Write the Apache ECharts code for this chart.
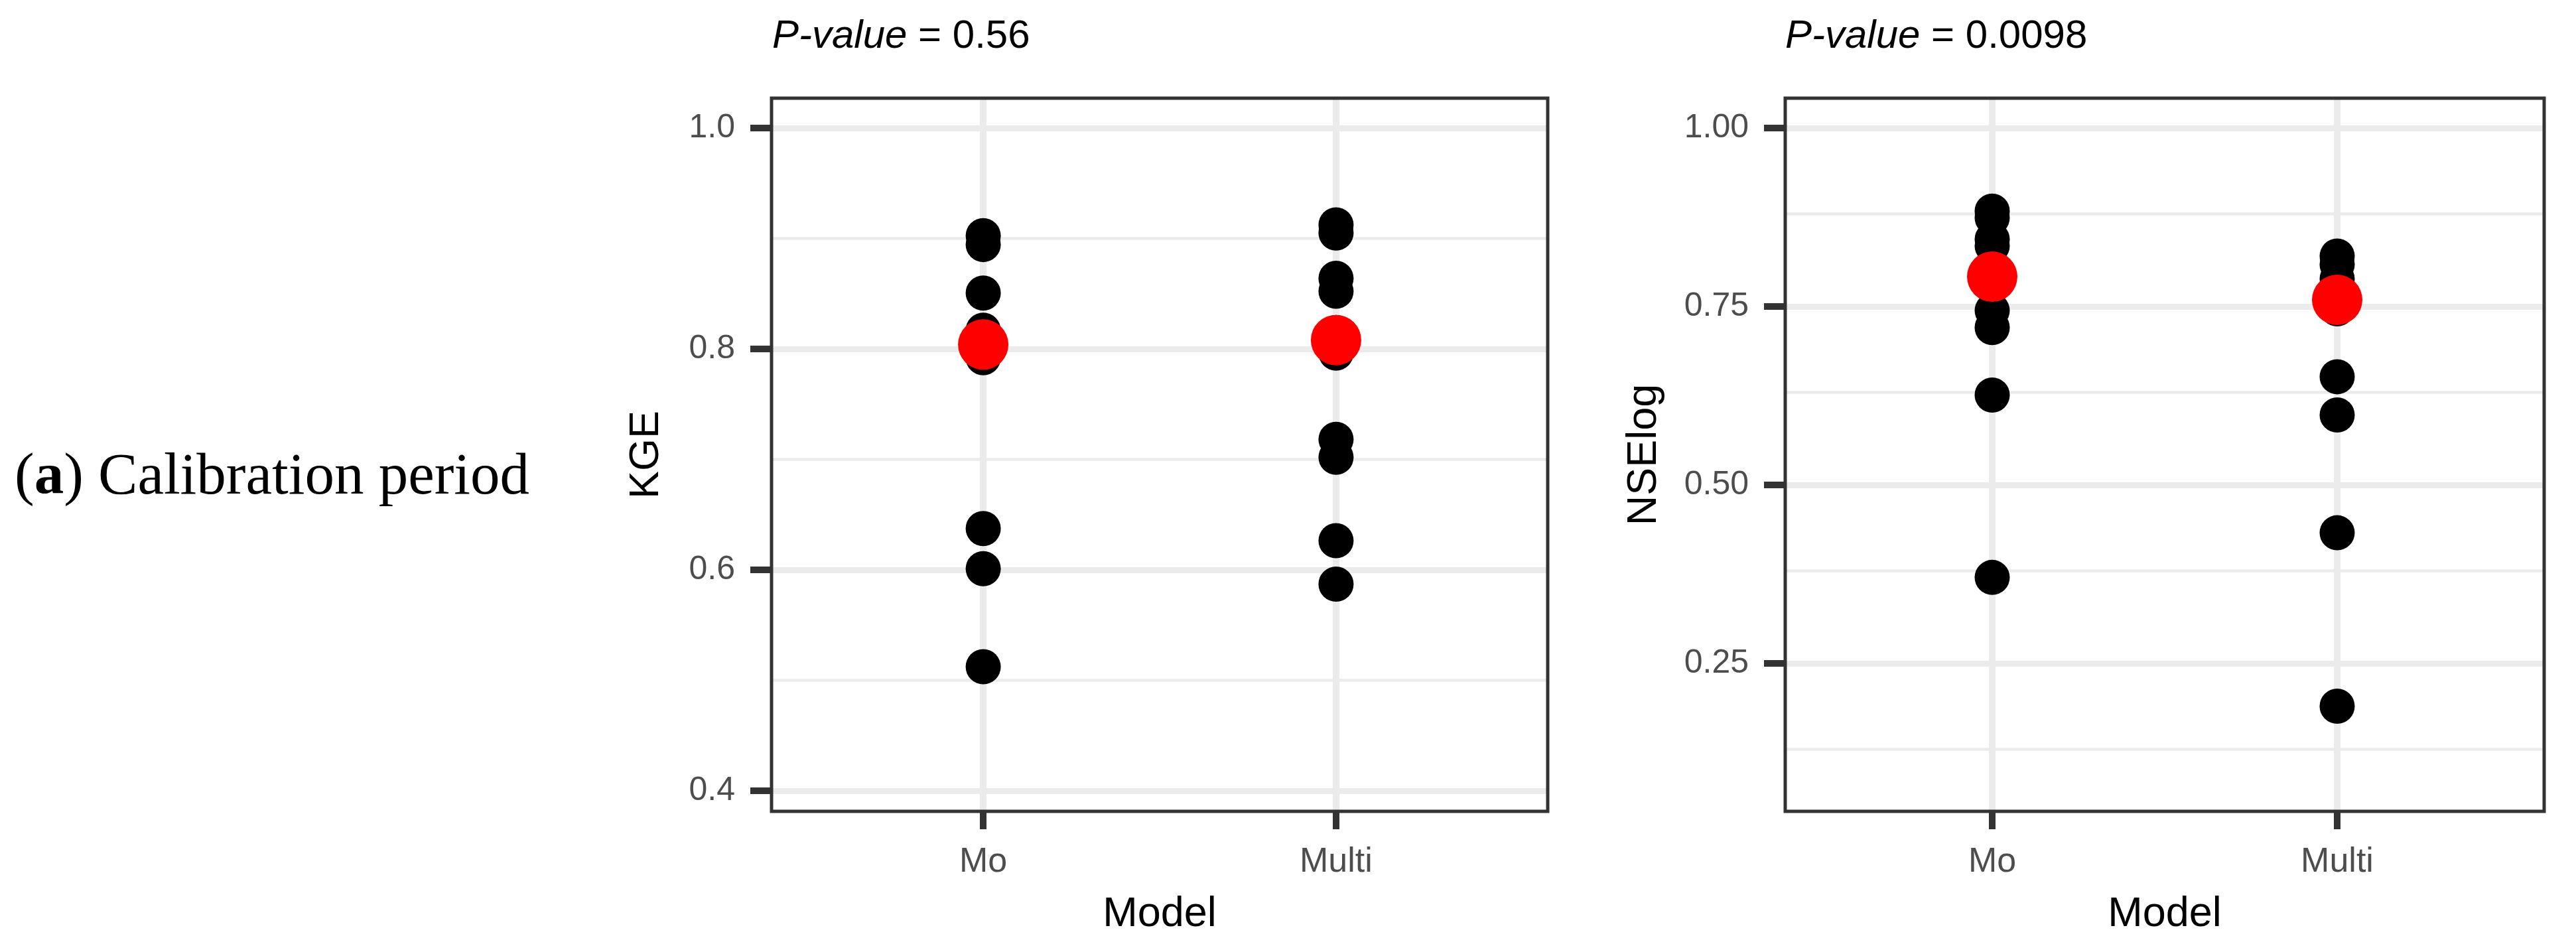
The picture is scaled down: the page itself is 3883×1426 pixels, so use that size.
<!DOCTYPE html>
<html>
<head>
<meta charset="UTF-8">
<title>KGE / NSElog</title>
<script src="https://cdn.jsdelivr.net/npm/echarts@6/dist/echarts.min.js"></script>
<style>
  html, body { margin: 0; padding: 0; background: #fff; }
  #main { width: 3883px; height: 1426px; }
</style>
</head>
<body>
<div id="main"></div>
<script type="text/javascript">
// data
var models = ['Mo', 'Multi'];

var kgeMo = [0.9025, 0.8945, 0.8506, 0.817, 0.792, 0.6374, 0.601, 0.5123];
var kgeMulti = [0.9123, 0.905, 0.8639, 0.8522, 0.8148, 0.7963, 0.7181, 0.7019, 0.6264, 0.5871];
var kgeCentre = [0.804, 0.808];

var nseMo = [0.8836, 0.8743, 0.8442, 0.8349, 0.7444, 0.7205, 0.626, 0.3705];
var nseMulti = [0.8206, 0.8088, 0.7886, 0.7468, 0.6516, 0.598, 0.433, 0.190];
var nseCentre = [0.7918, 0.7593];

var kgeMajor = [0.4, 0.6, 0.8, 1.0];
var kgeMinor = [0.5, 0.7, 0.9];
var nseMajor = [0.25, 0.5, 0.75, 1.0];
var nseMinor = [0.125, 0.375, 0.625, 0.875];

var pKge = '0.56';
var pNse = '0.0098';

var sans = "'Liberation Sans', Arial, sans-serif";
var serif = "'Liberation Serif', 'Times New Roman', serif";

function pts(idx, vals) {
  return vals.map(function (v) { return [idx, v]; });
}

function gridLines(major, minor) {
  var d = [];
  minor.forEach(function (v) { d.push({ yAxis: v, lineStyle: { color: '#ebebeb', width: 4.5, type: 'solid' } }); });
  major.forEach(function (v) { d.push({ yAxis: v, lineStyle: { color: '#ebebeb', width: 9, type: 'solid' } }); });
  [1, 2].forEach(function (v) { d.push({ xAxis: v, lineStyle: { color: '#ebebeb', width: 10, type: 'solid' } }); });
  return d;
}

function xAxisFor(gi) {
  return {
    type: 'value', gridIndex: gi, min: 0.4, max: 2.6,
    name: 'Model', nameLocation: 'middle', nameGap: 124,
    nameTextStyle: { fontSize: 63, color: '#000', fontFamily: sans },
    axisLine: { show: false },
    axisTick: { show: true, length: 27, lineStyle: { color: '#333', width: 10 }, customValues: [1, 2] },
    axisLabel: {
      customValues: [1, 2], margin: 51, fontSize: 52, color: '#4d4d4d', fontFamily: sans,
      formatter: function (v) { return models[Math.round(v) - 1]; }
    },
    splitLine: { show: false }
  };
}

function yAxisFor(gi, name, min, max, major, digits, gap) {
  return {
    type: 'value', gridIndex: gi, min: min, max: max,
    name: name, nameLocation: 'middle', nameGap: gap,
    nameTextStyle: { fontSize: 63, color: '#000', fontFamily: sans },
    axisLine: { show: false },
    axisTick: { show: true, length: 32, lineStyle: { color: '#333', width: 10 }, customValues: major },
    axisLabel: {
      customValues: major, margin: 55, fontSize: 50, color: '#4d4d4d', fontFamily: sans,
      formatter: function (v) { return v.toFixed(digits); }
    },
    splitLine: { show: false }
  };
}

function panelSeries(gi, mo, multi, centre, major, minor) {
  return [
    {
      type: 'scatter', xAxisIndex: gi, yAxisIndex: gi, data: [], z: 1,
      markLine: { z: 1, silent: true, symbol: ['none', 'none'], label: { show: false }, animation: false, data: gridLines(major, minor) }
    },
    {
      type: 'scatter', xAxisIndex: gi, yAxisIndex: gi, z: 3,
      symbolSize: 53, itemStyle: { color: '#000', opacity: 1 },
      data: pts(1, mo).concat(pts(2, multi))
    },
    {
      type: 'scatter', xAxisIndex: gi, yAxisIndex: gi, z: 4,
      symbolSize: 76, itemStyle: { color: '#ff0000', opacity: 1 },
      data: centre.map(function (v, i) { return [i + 1, v]; })
    }
  ];
}

var myChart = echarts.init(document.getElementById('main'));
var option = {
  animation: false,
  backgroundColor: '#fff',
  title: [
    {
      text: '({b|a}) Calibration period', left: 22, top: 676, padding: 0,
      textStyle: {
        fontSize: 89, fontWeight: 'normal', color: '#000', fontFamily: serif,
        rich: { b: { fontSize: 89, fontWeight: 'bold', color: '#000', fontFamily: serif } }
      }
    },
    {
      text: '{i|P-value} = ' + pKge, left: 1164, top: 25, padding: 0,
      textStyle: {
        fontSize: 60, fontWeight: 'normal', color: '#000', fontFamily: sans,
        rich: { i: { fontSize: 60, fontStyle: 'italic', color: '#000', fontFamily: sans } }
      }
    },
    {
      text: '{i|P-value} = ' + pNse, left: 2691, top: 25, padding: 0,
      textStyle: {
        fontSize: 60, fontWeight: 'normal', color: '#000', fontFamily: sans,
        rich: { i: { fontSize: 60, fontStyle: 'italic', color: '#000', fontFamily: sans } }
      }
    }
  ],
  grid: [
    { z: 2, left: 1163, top: 148, width: 1170, height: 1075, show: true, borderColor: '#333333', borderWidth: 5, backgroundColor: 'transparent' },
    { z: 2, left: 2691, top: 148, width: 1144, height: 1075, show: true, borderColor: '#333333', borderWidth: 5, backgroundColor: 'transparent' }
  ],
  xAxis: [xAxisFor(0), xAxisFor(1)],
  yAxis: [
    yAxisFor(0, 'KGE', 0.3814, 1.027, kgeMajor, 1, 157),
    yAxisFor(1, 'NSElog', 0.0428, 1.0418, nseMajor, 2, 181)
  ],
  series: panelSeries(0, kgeMo, kgeMulti, kgeCentre, kgeMajor, kgeMinor)
    .concat(panelSeries(1, nseMo, nseMulti, nseCentre, nseMajor, nseMinor))
};
myChart.setOption(option, true);
</script>
</body>
</html>
